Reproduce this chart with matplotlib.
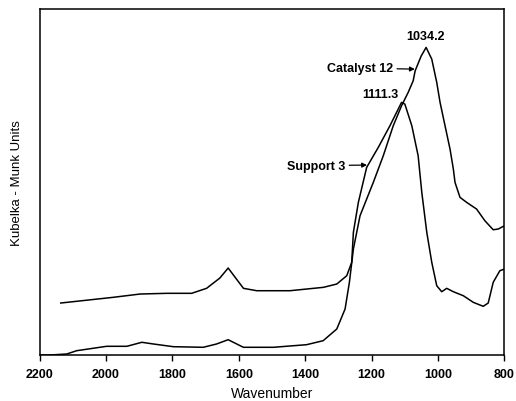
import matplotlib
matplotlib.use("Agg")
import matplotlib.pyplot as plt

# Support 3 (upper baseline, peak at 1111.3)
support_wn = [2136, 1978, 1897, 1817, 1742, 1697, 1657, 1632, 1611, 1586, 1546, 1446, 1345,
              1305, 1275, 1260, 1255, 1240, 1215, 1180, 1145, 1110, 1100, 1079, 1060, 1049,
              1034, 1019, 1004, 989, 974, 954, 924, 894, 864, 849, 834, 814, 800]
support_val = [52.5, 58.2, 61.5, 62.2, 62.2, 67.2, 77.5, 87.5, 78.2, 67.2, 64.8, 64.8, 68.2,
               71.5, 79.8, 93.2, 123.2, 153.2, 188.2, 208.2, 229.8, 253.2, 251.5, 229.8, 199.8, 163.2,
               123.2, 93.2, 69.8, 63.8, 67.2, 63.8, 59.8, 53.2, 49.2, 52.5, 73.2, 84.8, 86.5]

# Catalyst 12 (lower baseline, peak at 1034.2)
catalyst_wn = [2200, 2168, 2118, 2088, 1998, 1937, 1892, 1857, 1797, 1707, 1667, 1632, 1596,
               1586, 1496, 1396, 1346, 1305, 1280, 1267, 1255, 1235, 1195, 1165, 1135, 1110,
               1090, 1075, 1069, 1051, 1036, 1019, 1004, 994, 979, 964, 954, 949, 934, 914,
               884, 859, 834, 819, 800]
catalyst_val = [0.5, 0.5, 1.5, 4.8, 9.2, 9.2, 13.2, 11.5, 8.8, 8.2, 11.5, 15.8, 9.8,
                8.2, 8.2, 10.8, 14.8, 26.5, 46.5, 73.2, 106.5, 139.8, 173.2, 199.8, 229.8, 249.8,
                263.2, 274.8, 284.8, 299.5, 308.2, 296.5, 273.2, 253.2, 229.8, 206.5, 186.5, 173.2, 158.2, 153.2,
                146.5, 134.8, 125.8, 126.5, 129.8]

xticks = [2200, 2000, 1800, 1600, 1400, 1200, 1000, 800]

plt.rcParams['font.family'] = ['Liberation Sans', 'DejaVu Sans']

fig = plt.figure(figsize=(5.16, 4.02), dpi=100)
ax = fig.add_axes([0.0766, 0.1132, 0.9011, 0.8628])

ax.plot(support_wn, support_val, color='black', lw=1.1)
ax.plot(catalyst_wn, catalyst_val, color='black', lw=1.1)

ax.set_xlim(2200, 800)
ax.set_ylim(0, 347)
ax.set_xticks(xticks)
ax.set_xticklabels([str(t) for t in xticks], fontsize=9, fontweight='bold')
ax.set_yticks([])
ax.tick_params(axis='x', direction='out', length=4, width=1.0, pad=5)
for s in ax.spines.values():
    s.set_linewidth(1.1)

ax.set_xlabel('Wavenumber', fontsize=10, labelpad=4)
ax.set_ylabel('Kubelka - Munk Units', fontsize=9.5, labelpad=12)

ax.text(1039, 319.5, '1034.2', ha='center', va='center', fontsize=9, fontweight='bold')
ax.text(1175, 261.5, '1111.3', ha='center', va='center', fontsize=9, fontweight='bold')

arrow = dict(arrowstyle='-|>', color='black', lw=0.9, mutation_scale=7, shrinkA=1, shrinkB=0)
ax.annotate('Catalyst 12', xy=(1070, 286.5), xytext=(1136, 287.5), ha='right', va='center',
            fontsize=9, fontweight='bold', arrowprops=arrow)
ax.annotate('Support 3', xy=(1214, 190.5), xytext=(1280, 190), ha='right', va='center',
            fontsize=9, fontweight='bold', arrowprops=arrow)

fig.savefig('out.png', dpi=100)
